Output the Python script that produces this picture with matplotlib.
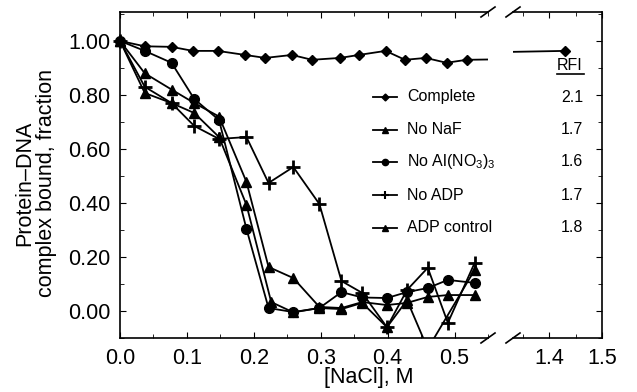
import numpy as np
import matplotlib
matplotlib.use("Agg")
import matplotlib.pyplot as plt
from matplotlib.lines import Line2D
from matplotlib.ticker import MultipleLocator, FormatStrFormatter

plt.rcParams['font.family'] = ['Liberation Sans', 'DejaVu Sans']
plt.rcParams['mathtext.fontset'] = 'custom'
plt.rcParams['mathtext.rm'] = 'Liberation Sans'
plt.rcParams['mathtext.default'] = 'regular'

# NaCl concentrations (M)
x_grid = [0.0, 0.037, 0.077, 0.111, 0.148, 0.189, 0.222, 0.259, 0.298, 0.331,
          0.362, 0.399, 0.429, 0.460, 0.490, 0.530]
x_complete = [0.0, 0.037, 0.077, 0.109, 0.146, 0.187, 0.217, 0.257, 0.287, 0.329,
              0.357, 0.397, 0.426, 0.457, 0.488, 0.518]
y_complete = [1.00, 0.98, 0.978, 0.963, 0.963, 0.948, 0.937, 0.948, 0.930, 0.937,
              0.948, 0.963, 0.930, 0.937, 0.919, 0.930]
far_x = 1.43
far_y = 0.963

y_nonaf = [1.00, 0.88, 0.82, 0.77, 0.72, 0.478, 0.163, 0.122, 0.015, 0.011,
           0.033, 0.022, 0.030, 0.052, 0.059, 0.059]
y_noal = [1.00, 0.963, 0.919, 0.785, 0.707, 0.304, 0.011, -0.004, 0.011, 0.070,
          0.050, 0.048, 0.070, 0.085, 0.115, 0.104]
y_noadp = [1.00, 0.83, 0.77, 0.685, 0.637, 0.644, 0.474, 0.533, 0.396, 0.111,
           0.067, -0.060, 0.078, 0.160, -0.044, 0.178]
x_adpctl = [0.0, 0.037, 0.077, 0.111, 0.148, 0.189, 0.226, 0.259, 0.298, 0.331,
            0.362, 0.399, 0.429, 0.460, 0.530]
y_adpctl = [1.00, 0.807, 0.77, 0.733, 0.644, 0.393, 0.033, -0.005, 0.011, 0.007,
            0.030, -0.060, 0.040, -0.140, 0.152]

labels = ['Complete', 'No NaF', r'No Al(NO$_3$)$_3$', 'No ADP', 'ADP control']
rfi = ['2.1', '1.7', '1.6', '1.7', '1.8']

W, H = 637, 392
fig = plt.figure(figsize=(W / 100, H / 100), dpi=100)

def fx(px):
    return px / W

def fy(py):
    return 1 - py / H

ax_l, ax_r0, ax_r1, ax_top, ax_bot = 120, 488, 513, 12, 338
ax = fig.add_axes([fx(ax_l), fy(ax_bot), fx(ax_r0 - ax_l), (ax_bot - ax_top) / H])
ax2 = fig.add_axes([fx(ax_r1), fy(ax_bot), fx(602 - ax_r1), (ax_bot - ax_top) / H])

ylim = (-0.10, 1.107)
styles = [
    (x_complete + [far_x], y_complete + [far_y], 'D', 5.5),
    (x_grid, y_nonaf, '^', 7.5),
    (x_grid, y_noal, 'o', 7),
    (x_grid, y_noadp, '+', 10),
    (x_adpctl, y_adpctl, '^', 7.5),
]

for xs, ys, mk, ms in styles:
    xs = np.array(xs)
    ys = np.array(ys)
    for a in (ax, ax2):
        a.plot(xs, ys, color='black', lw=1.3)
    keep = (ys >= ylim[0]) & (xs <= 0.55)
    ax.plot(xs[keep], ys[keep], ls='none', marker=mk, ms=ms, color='black',
            mew=2 if mk == '+' else 1, clip_on=False, zorder=3)

ax2.plot([far_x], [far_y], ls='none', marker='D', ms=5.5, color='black', clip_on=False, zorder=3)

ax.set_xlim(0, 0.55)
ax.set_ylim(*ylim)
ax2.set_xlim(1.332, 1.5)
ax2.set_ylim(*ylim)

ax.spines['right'].set_visible(False)
ax2.spines['left'].set_visible(False)
for a in (ax, ax2):
    for s in a.spines.values():
        s.set_linewidth(1.2)

ax.xaxis.set_major_locator(MultipleLocator(0.1))
ax.xaxis.set_minor_locator(MultipleLocator(0.05))
ax.xaxis.set_major_formatter(FormatStrFormatter('%.1f'))
ax.yaxis.set_major_locator(MultipleLocator(0.2))
ax.yaxis.set_minor_locator(MultipleLocator(0.1))
ax.yaxis.set_major_formatter(FormatStrFormatter('%.2f'))
ax.tick_params(which='both', direction='in', top=True, right=False, labelsize=15.5, pad=7)
ax.tick_params(which='major', length=4)
ax.tick_params(which='minor', length=3)

ax2.xaxis.set_major_locator(MultipleLocator(0.1))
ax2.xaxis.set_minor_locator(MultipleLocator(0.05))
ax2.xaxis.set_major_formatter(FormatStrFormatter('%.1f'))
ax2.yaxis.set_major_locator(MultipleLocator(0.2))
ax2.yaxis.set_minor_locator(MultipleLocator(0.1))
ax2.yaxis.tick_right()
ax2.tick_params(which='both', direction='in', top=True, left=False, right=True,
                labelright=False, labelsize=15.5, pad=7)
ax2.tick_params(which='major', length=4)
ax2.tick_params(which='minor', length=3)

# break marks
for bx in (ax_r0, ax_r1):
    for by in (ax_top, ax_bot):
        fig.add_artist(Line2D([fx(bx - 7), fx(bx + 7)], [fy(by + 5), fy(by - 5)],
                              color='black', lw=1.2))

fig.text(fx(369), fy(378), '[NaCl], M', ha='center', va='center', fontsize=15.5)
fig.text(fx(36), fy(183), 'Protein\u2013DNA\ncomplex bound, fraction', rotation=90,
         ha='center', va='center', fontsize=15.5, linespacing=1.05)

# legend with RFI column
rows = [97, 130, 162, 195, 228]
legend_marks = [('D', 3.5), ('^', 5), ('o', 4.5), ('+', 6), ('^', 5)]
for lab, val, ry, (mk, ms) in zip(labels, rfi, rows, legend_marks):
    fig.add_artist(Line2D([fx(373), fx(397)], [fy(ry), fy(ry)], color='black', lw=1.3))
    fig.add_artist(Line2D([fx(385)], [fy(ry)], ls='none', marker=mk, ms=ms,
                          color='black', mew=1.5 if mk == '+' else 1))
    fig.text(fx(407), fy(ry), lab, ha='left', va='center', fontsize=11.5)
    fig.text(fx(583), fy(ry), val, ha='right', va='center', fontsize=11.5)

fig.text(fx(570), fy(65), 'RFI', ha='center', va='center', fontsize=11.5)
fig.add_artist(Line2D([fx(557), fx(584)], [fy(74), fy(74)], color='black', lw=1.2))

fig.savefig('out.png', dpi=100)
